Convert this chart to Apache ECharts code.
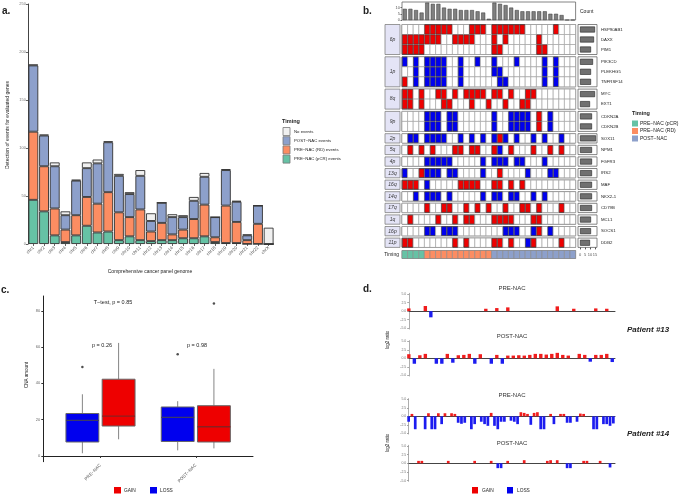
<!DOCTYPE html>
<html><head><meta charset="utf-8">
<script src="https://cdn.jsdelivr.net/npm/echarts@6/dist/echarts.min.js"></script>
<style>html,body{margin:0;padding:0;background:#fff}#c{width:685px;height:494px}</style>
</head><body><div id="c"></div><script>
// ---------- Panel a data ----------
const chromosomes = ['chr1','chr2','chr3','chr4','chr5','chr6','chr7','chr8','chr9','chr10','chr11','chr12','chr13','chr14','chr15','chr16','chr17','chr18','chr19','chr20','chr21','chr22','chrX'];
const pcrEvents  = [46,34, 9, 2, 9,19,12,13, 4, 8, 4, 3, 4, 4, 6, 6, 8, 2, 1, 1, 0, 0, 0];
const rdEvents   = [71,47,28,13,21,30,30,41,29,20,32,10,18, 6, 9,20,33, 5,39,22, 4,21, 0];
const postEvents = [69,32,44,15,36,30,42,52,38,24,35,11,21,18,13,19,29,21,37,21, 5,19, 0];
const noEvents   = [ 1, 1, 4, 4, 1, 6, 4, 1, 2, 2, 6, 8, 0, 3, 2, 4, 4, 0, 1, 1, 1, 0,17];

// ---------- Panel b data ----------
const sampleIds = ['S01','S02','S03','S04','S05','S06','S07','S08','S09','S10','S11','S12','S13','S14','S15','S16','S17','S18','S19','S20','S21','S22','S23','S24','S25','S26','S27','S28','S29','S30','S31'];
const sampleTiming = ['pCR','pCR','pCR','pCR','RD','RD','RD','RD','RD','RD','RD','RD','RD','RD','RD','RD','POST','POST','POST','POST','POST','POST','POST','POST','POST','POST','POST','POST','POST','POST','POST'];
const sampleCounts = [9,9,8,6,14,13,13,10,9,9,8,8,8,7,6,1,14,13,12,10,8,7,7,7,7,7,5,5,4,0,0];
const genes = ['HSP90AB1','DAXX','PIM1','PIK3CD','PLEKHG5','TNFRSF14','MYC','EXT1','CDKN2A','CDKN2B','SOX11','NPM1','FGFR3','IRS2','MAF','NKX2-1','CD79B','MCL1','SOCS1','DDB2'];
const arms = ['6p','1p','8q','9p','2p','5q','4p','13q','16q','14q','17q','1q','16p','11p'];
const armSizes = [3,3,2,2,1,1,1,1,1,1,1,1,1,1];
const geneCounts = [15,14,11,13,11,11,15,10,12,12,16,12,12,12,12,12,12,11,11,10];
const gainCols = [
  [4,5,6,7,8,12,13,14,16,17,18,19,20,21,27],
  [0,1,2,3,4,5,6,9,10,11,12,16,18,24],
  [0,1,2,3,16,17,24,25],
  [], [], [0],
  [0,1,3,6,7,9,11,12,13,14,16,17,19,22,23],
  [0,1,3,7,8,12,15,18,21,22],
  [24], [24], [17],
  [1,3,5,9,10,12,13,16,19,23,26,28],
  [], [3,17],
  [0,1,2,10,11,12,13,16,17,19,21],
  [],
  [4,7,8,11,13,15,18,21,22,24,28],
  [1,6,9,11,12,16,17,18,19,23,24],
  [24],
  [0,1,9,11,16,17,19,23,28]
];
const lossCols = [
  [], [], [],
  [0,2,4,5,6,7,10,13,16,20,25,27],
  [2,4,5,6,7,10,16,17,25,27],
  [2,4,5,6,7,10,17,18,25,27],
  [], [],
  [4,5,6,8,9,16,19,20,21,22,26],
  [4,5,6,8,9,16,19,20,21,22,26],
  [1,2,4,5,6,7,10,12,14,16,18,20,23,25,28],
  [17],
  [4,5,6,7,8,14,16,17,18,20,21,25],
  [0,4,5,6,8,9,14,22,26,27],
  [4],
  [2,4,5,6,8,14,16,17,19,20,23,25],
  [], [],
  [4,5,7,8,9,18,19,20,23,26],
  [22]
];

// ---------- Panel c data ----------
const boxGroups = ['PRE\u2212NAC','POST\u2212NAC'];
const lossStats = [[1.5,7.7,19.6,23.4,34],[3.1,8,21.3,27,30.2]];   // min,q1,median,q3,max
const gainStats = [[9.2,16.5,22,42.3,62.3],[4.2,7.7,16.1,27.7,48]];
const lossOutliers = [[1,49],[2,56]];
const gainOutliers = [[2,84]];

// ---------- Panel d data ([segment, log2 ratio]) ----------
const p13Pre = [[0,0.8],[3,1.5],[4,-1.8],[14,0.7],[16,0.9],[18,1.1],[27,1.4],[30,0.7],[34,0.8],[36,0.7]];
const p13Post = [[0,1.2],[1,-1.6],[2,0.9],[3,1.3],[5,-1.6],[6,-1.6],[7,1.3],[8,-1.3],[9,0.9],[10,1.0],[11,1.3],[12,-1.6],[13,1.2],[15,-1.6],[16,1.0],[17,-1.6],[18,0.8],[19,0.8],[20,0.9],[21,0.8],[22,1.0],[23,1.3],[24,1.3],[25,1.1],[26,1.3],[27,1.6],[28,1.0],[29,0.8],[31,1.3],[32,1.0],[33,-1.0],[34,1.0],[35,1.0],[36,1.3],[37,-1.1]];
const p14Pre = [[0,-1.6],[1,0.7],[2,-3.8],[5,-3.8],[6,0.9],[7,-3.8],[8,-3.8],[9,0.9],[10,-2.3],[11,0.9],[13,0.9],[14,0.7],[15,-1.9],[16,-2.2],[17,-1.9],[19,-3.8],[20,-2.3],[22,-1.6],[23,-2.3],[24,-2.8],[25,1.0],[26,-2.8],[27,-3.8],[28,-1.6],[29,-1.6],[31,-1.3],[32,-1.6],[33,-2.3],[34,1.2],[35,1.0],[36,0.7],[37,-2.5],[38,1.0],[39,1.2],[40,-3.8],[41,-3.8],[43,0.7],[44,-2.3],[46,0.7],[47,0.7],[48,-1.9],[49,-1.9],[51,-1.6],[52,0.8],[53,0.7],[56,-3.8],[57,-3.8],[59,-2.3],[60,-2.3],[61,-2.8],[62,-2.1]];
const p14Post = [[3,0.7],[4,0.7],[12,0.7],[20,0.7],[25,0.7],[27,-1.4],[28,-1.4],[30,0.7],[35,0.9],[42,0.7],[43,0.9],[45,0.9],[48,-1.4],[49,-1.4],[53,0.7],[54,0.7],[58,0.7],[61,-1.2]];

// ---------- Build ----------
const FONT = '"Liberation Sans", Arial, sans-serif';
const RED = '#ee0000', BLUE = '#0000ee';
const TCOL = {pCR:'#66c2a5', RD:'#fc8d62', POST:'#8da0cb'};
const grids=[], xAxes=[], yAxes=[], series=[], graphics=[];
function addGrid(g, x, y){ const i=grids.length; grids.push(g); x.gridIndex=i; y.gridIndex=i; xAxes.push(x); yAxes.push(y); return i; }
function T(x,y,text,o){ o=o||{}; graphics.push({type:'text', x:x, y:y, rotation:o.rot||0, z:100, style:{text:text, fontSize:o.fs||5, fill:o.fill||'#222', fontFamily:FONT, fontWeight:o.fw||'normal', fontStyle:o.fst||'normal', textAlign:o.ta||'left', textVerticalAlign:o.tv||'middle'}}); }
function R(x,y,w,h,fill,stroke){ graphics.push({type:'rect', z:100, shape:{x:x,y:y,width:w,height:h}, style:{fill:fill, stroke:stroke||null, lineWidth:0.8}}); }
const hidCat = (data)=>({type:'category', data:data, show:false});

// ===== Panel a =====
const ga = addGrid({left:28, top:4, width:246, height:240},
  {type:'category', data:chromosomes, axisLine:{show:false}, axisTick:{show:true, length:2, alignWithLabel:true, lineStyle:{color:'#666'}},
   axisLabel:{rotate:45, fontSize:4.5, color:'#555', margin:3, fontFamily:FONT}},
  {type:'value', min:0, max:250, interval:50, axisLine:{show:true, lineStyle:{color:'#444'}}, axisTick:{show:true, length:2, lineStyle:{color:'#666'}},
   axisLabel:{fontSize:4, color:'#777', margin:2, fontFamily:FONT}, splitLine:{show:false}});
[[pcrEvents,TCOL.pCR],[rdEvents,TCOL.RD],[postEvents,TCOL.POST],[noEvents,'#f0f0f0']].forEach(([d,c])=>{
  series.push({type:'bar', xAxisIndex:ga, yAxisIndex:ga, stack:'a', data:d, barCategoryGap:'8%',
    itemStyle:{color:c, borderColor:'#333', borderWidth:0.9}, silent:true});
});
T(8,125,'Detection of events for evaluated genes',{rot:Math.PI/2, fs:5, ta:'center'});
T(150,272,'Comprehensive cancer panel genome',{fs:5, ta:'center'});
T(2,11,'a.',{fs:10, fw:'bold'});
T(282,121,'Timing',{fs:5.5, fw:'bold'});
[['#f0f0f0','No events'],[TCOL.POST,'POST\u2212NAC events'],[TCOL.RD,'PRE\u2212NAC (RD) events'],[TCOL.pCR,'PRE\u2212NAC (pCR) events']].forEach(([c,t],i)=>{
  R(283,127.5+i*9.2,7,8,c,'#777'); T(294,131.5+i*9.2,t,{fs:4.3});
});

// ===== Panel b =====
const HX = 402, HW = 173.6;
T(363,11,'b.',{fs:10, fw:'bold'});
const gh = addGrid({left:HX, top:2, width:HW, height:18, show:true, borderColor:'#666', borderWidth:0.8},
  hidCat(sampleIds),
  {type:'value', min:0, max:14.5, axisLine:{show:false}, axisTick:{show:true, length:1.5, customValues:[0,5,10], lineStyle:{color:'#666'}},
   axisLabel:{fontSize:4, color:'#555', margin:2, customValues:[0,5,10], fontFamily:FONT}, splitLine:{show:false}});
series.push({type:'bar', xAxisIndex:gh, yAxisIndex:gh, data:sampleCounts, barWidth:4, itemStyle:{color:'#808080', borderColor:'#333', borderWidth:0.5}, silent:true});
T(580,12,'Count',{fs:5});

const cellRender = (params, api)=>{
  const c = api.coord([api.value(0), api.value(1)]);
  const s = api.size([1,1]);
  const st = api.value(2);
  if (st===0) return {type:'rect', shape:{x:c[0]-s[0]/2, y:c[1]-s[1]/2, width:s[0], height:s[1]}, style:{fill:'#fff', stroke:'#9a9a9a', lineWidth:0.6}};
  return {type:'rect', shape:{x:c[0]-s[0]/2+0.3, y:c[1]-s[1]/2+0.3, width:s[0]-0.6, height:s[1]-0.6}, style:{fill: st===1?RED:BLUE, stroke:'#3a3a3a', lineWidth:0.6}};
};
let blockTop = 24.5, gi = 0;
arms.forEach((arm, ai)=>{
  const n = armSizes[ai];
  const h = n>1 ? 10*n : 9.3;
  const bg = genes.slice(gi, gi+n);
  // lavender label box
  addGrid({left:385, top:blockTop, width:15, height:h, show:true, backgroundColor:'#e4e4f6', borderColor:'#808080', borderWidth:0.8},
    {type:'value', show:false}, {type:'value', show:false});
  T(392.5, blockTop+h/2, arm, {fs:5, fst:'italic', ta:'center', fill:'#333'});
  // heat cells
  const gc = addGrid({left:HX, top:blockTop, width:HW, height:h, show:true, borderColor:'#666', borderWidth:1},
    hidCat(sampleIds), Object.assign(hidCat(bg), {inverse:true}));
  const cells = [];
  bg.forEach((g, r)=>{
    const k = gi + r;
    for (let s=0; s<sampleIds.length; s++){
      const st = gainCols[k].includes(s) ? 1 : (lossCols[k].includes(s) ? 2 : 0);
      cells.push([s, r, st]);
    }
  });
  series.push({type:'custom', xAxisIndex:gc, yAxisIndex:gc, renderItem:cellRender, data:cells, encode:{x:0,y:1}, silent:true});
  // right gene count bars
  const last = ai === arms.length-1;
  const gr = addGrid({left:578, top:blockTop, width:19, height:h, show:true, borderColor:'#666', borderWidth:0.8, backgroundColor:'#fff'},
    {type:'value', min:-2, max:17, splitLine:{show:false}, axisLine:{show:false},
     axisTick:{show:last, length:2, customValues:[0,5,10,15], lineStyle:{color:'#555'}},
     axisLabel:{show:last, fontSize:4, color:'#555', margin:5, customValues:[0,5,10,15], fontFamily:FONT}},
    {type:'category', data:bg, inverse:true, position:'right', axisLine:{show:false}, axisTick:{show:false},
     axisLabel:{fontSize:4.3, color:'#222', margin:4, fontFamily:FONT}});
  series.push({type:'bar', xAxisIndex:gr, yAxisIndex:gr, data:geneCounts.slice(gi, gi+n), barWidth:6,
    itemStyle:{color:'#707070', borderColor:'#222', borderWidth:0.6}, silent:true});
  gi += n; blockTop += h + 2.3;
});
// Timing row
const gt = addGrid({left:HX, top:250.5, width:HW, height:8, show:true, borderColor:'#777', borderWidth:0.8},
  hidCat(sampleIds), hidCat(['Timing']));
series.push({type:'custom', xAxisIndex:gt, yAxisIndex:gt, encode:{x:0,y:1}, silent:true,
  data: sampleTiming.map((t,i)=>[i,0]),
  renderItem:(params, api)=>{
    const c = api.coord([api.value(0), 0]); const s = api.size([1,1]);
    return {type:'rect', shape:{x:c[0]-s[0]/2, y:c[1]-s[1]/2, width:s[0], height:s[1]}, style:{fill:TCOL[sampleTiming[params.dataIndex]], stroke:'#8a8a8a', lineWidth:0.6}};
  }});
T(399,255,'Timing',{fs:5, ta:'right'});
T(632,113,'Timing',{fs:5.5, fw:'bold'});
[[TCOL.pCR,'PRE\u2212NAC (pCR)'],[TCOL.RD,'PRE\u2212NAC (RD)'],[TCOL.POST,'POST\u2212NAC']].forEach(([c,t],i)=>{
  R(632,120.5+i*7.5,6,6,c,null); T(640,123.5+i*7.5,t,{fs:5});
});

// ===== Panel c =====
T(1,290,'c.',{fs:10, fw:'bold'});
const gcx = addGrid({left:43.3, top:296, width:209.7, height:165.7},
  {type:'value', min:0.4, max:2.6, splitLine:{show:false}, axisLine:{show:true, lineStyle:{color:'#222', width:1}},
   axisTick:{show:true, length:2, customValues:[1,2], lineStyle:{color:'#333'}},
   axisLabel:{customValues:[1,2], rotate:45, fontSize:4.5, color:'#555', margin:3, fontFamily:FONT, formatter:(v)=>boxGroups[Math.round(v)-1]}},
  {type:'value', min:-3.15, max:88.15, splitLine:{show:false}, axisLine:{show:true, lineStyle:{color:'#222', width:1}},
   axisTick:{show:true, length:2, customValues:[0,20,40,60,80], lineStyle:{color:'#333'}},
   axisLabel:{customValues:[0,20,40,60,80], fontSize:4, color:'#666', margin:3, fontFamily:FONT}});
function boxRender(fill, medColor){
  return (params, api)=>{
    const x = api.value(0);
    const lo=api.coord([x,api.value(1)]), q1=api.coord([x,api.value(2)]), md=api.coord([x,api.value(3)]), q3=api.coord([x,api.value(4)]), hi=api.coord([x,api.value(5)]);
    const w = api.size([0.345,0])[0];
    return {type:'group', children:[
      {type:'line', shape:{x1:lo[0],y1:lo[1],x2:q1[0],y2:q1[1]}, style:{stroke:'#777', lineWidth:0.9}},
      {type:'line', shape:{x1:q3[0],y1:q3[1],x2:hi[0],y2:hi[1]}, style:{stroke:'#777', lineWidth:0.9}},
      {type:'rect', shape:{x:q1[0]-w/2, y:q3[1], width:w, height:q1[1]-q3[1]}, style:{fill:fill, stroke:'#666', lineWidth:1}},
      {type:'line', shape:{x1:q1[0]-w/2, y1:md[1], x2:q1[0]+w/2, y2:md[1]}, style:{stroke:medColor, lineWidth:1.3}}
    ]};
  };
}
series.push({type:'custom', xAxisIndex:gcx, yAxisIndex:gcx, silent:true, renderItem:boxRender(BLUE,'#3a3a6a'),
  data: lossStats.map((s,i)=>[i+1-0.19].concat(s))});
series.push({type:'custom', xAxisIndex:gcx, yAxisIndex:gcx, silent:true, renderItem:boxRender(RED,'#8a2020'),
  data: gainStats.map((s,i)=>[i+1+0.19].concat(s))});
series.push({type:'scatter', xAxisIndex:gcx, yAxisIndex:gcx, silent:true, symbolSize:2.5, itemStyle:{color:'#222'},
  data: lossOutliers.map(p=>[p[0]-0.19,p[1]]).concat(gainOutliers.map(p=>[p[0]+0.19,p[1]]))});
T(113,302,'T\u2212test, p = 0.85',{fs:5.5, ta:'center'});
T(102,345.5,'p = 0.26',{fs:5.5, ta:'center'});
T(197,345.5,'p = 0.98',{fs:5.5, ta:'center'});
T(27,375,'CNA amount',{rot:Math.PI/2, fs:4.5, ta:'center'});
R(114,487,7,6.5,RED,null); T(124,490.3,'GAIN',{fs:4.8});
R(150,487,7,6.5,BLUE,null); T(160,490.3,'LOSS',{fs:4.8});

// ===== Panel d =====
T(363,289,'d.',{fs:10, fw:'bold'});
const dCharts = [
  {data:p13Pre, top:293.3, h:35.7, max:37.5, bw:3.4, title:'PRE-NAC', ty:288.3},
  {data:p13Post, top:340.6, h:35.4, max:37.5, bw:3.4, title:'POST-NAC', ty:336},
  {data:p14Pre, top:398.6, h:35.4, max:62.5, bw:2.7, title:'PRE-NAC', ty:395.7},
  {data:p14Post, top:445.3, h:36, max:62.5, bw:2.7, title:'POST-NAC', ty:443.3}
];
dCharts.forEach(dc=>{
  const g = addGrid({left:408.3, top:dc.top, width:206.7, height:dc.h},
    {type:'value', min:-0.1, max:dc.max, show:true, splitLine:{show:false}, axisTick:{show:false}, axisLabel:{show:false},
     axisLine:{show:true, onZero:true, lineStyle:{color:'#444', width:1}}},
    {type:'value', min:-5.2, max:5.2, splitLine:{show:false}, axisLine:{show:true, lineStyle:{color:'#999', width:0.8}},
     axisTick:{show:true, length:1.5, customValues:[-5,-2.5,0,2.5,5], lineStyle:{color:'#999'}},
     axisLabel:{customValues:[-5,-2.5,0,2.5,5], fontSize:3.5, color:'#777', margin:2, fontFamily:FONT, formatter:(v)=>v.toFixed(1)}});
  series.push({type:'bar', xAxisIndex:g, yAxisIndex:g, barWidth:dc.bw, silent:true, data:dc.data,
    itemStyle:{color:(p)=> p.value[1] > 0 ? '#f01c1c' : '#1c1cf0'}});
  T(512, dc.ty, dc.title, {fs:6, ta:'center', fill:'#333'});
});
T(388,340,'log2 ratio',{rot:Math.PI/2, fs:4.5, ta:'center'});
T(388,443,'log2 ratio',{rot:Math.PI/2, fs:4.5, ta:'center'});
T(627,330,'Patient #13',{fs:8, fw:'bold', fst:'italic'});
T(627,434,'Patient #14',{fs:8, fw:'bold', fst:'italic'});
R(472,487,6,6.5,RED,null); T(482,490.3,'GAIN',{fs:4.8});
R(507,487,6,6.5,BLUE,null); T(517,490.3,'LOSS',{fs:4.8});

const chart = echarts.init(document.getElementById('c'), null, {renderer:'canvas', width:685, height:494});
chart.setOption({animation:false, backgroundColor:'#fff', textStyle:{fontFamily:FONT},
  grid:grids, xAxis:xAxes, yAxis:yAxes, series:series, graphic:{elements:graphics}});
</script></body></html>
